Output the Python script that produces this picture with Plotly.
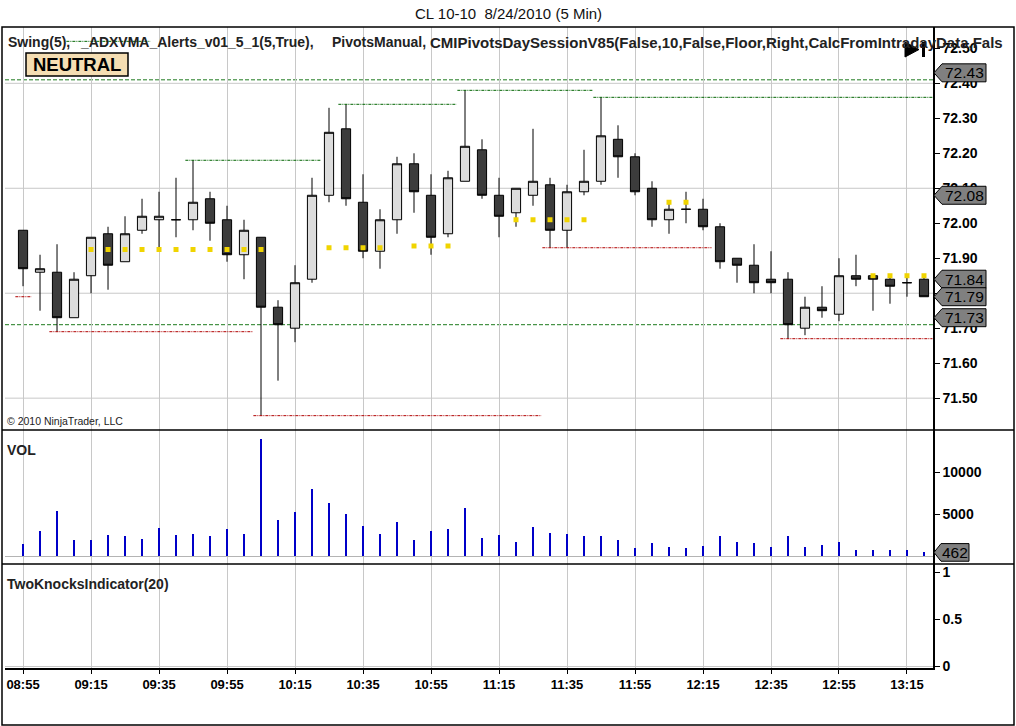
import plotly.graph_objects as go
from plotly.subplots import make_subplots

# --- bar data (5 min bars, CL 10-10, 8/24/2010) ---
times = ["08:55", "09:00", "09:05", "09:10", "09:15", "09:20", "09:25", "09:30", "09:35", "09:40",
         "09:45", "09:50", "09:55", "10:00", "10:05", "10:10", "10:15", "10:20", "10:25", "10:30",
         "10:35", "10:40", "10:45", "10:50", "10:55", "11:00", "11:05", "11:10", "11:15", "11:20",
         "11:25", "11:30", "11:35", "11:40", "11:45", "11:50", "11:55", "12:00", "12:05", "12:10",
         "12:15", "12:20", "12:25", "12:30", "12:35", "12:40", "12:45", "12:50", "12:55", "13:00",
         "13:05", "13:10", "13:15", "13:20"]

opens = [71.98, 71.86, 71.86, 71.73, 71.85, 71.97, 71.89, 71.98, 72.01, 72.01,
         72.01, 72.07, 72.01, 71.91, 71.96, 71.76, 71.70, 71.84, 72.08, 72.27,
         72.06, 71.92, 72.01, 72.17, 72.08, 71.97, 72.12, 72.21, 72.08, 72.03,
         72.08, 72.11, 71.98, 72.09, 72.12, 72.24, 72.19, 72.10, 72.01, 72.04,
         72.04, 71.99, 71.90, 71.88, 71.84, 71.84, 71.70, 71.76, 71.74, 71.85,
         71.85, 71.84, 71.83, 71.84]
highs = [71.98, 71.91, 71.94, 71.86, 71.96, 71.99, 72.02, 72.07, 72.09, 72.13,
         72.18, 72.09, 72.05, 72.01, 71.96, 71.78, 71.88, 72.13, 72.33, 72.34,
         72.14, 72.04, 72.19, 72.20, 72.14, 72.15, 72.38, 72.24, 72.13, 72.10,
         72.27, 72.13, 72.11, 72.21, 72.36, 72.28, 72.20, 72.12, 72.06, 72.09,
         72.07, 72.00, 71.90, 71.94, 71.92, 71.86, 71.79, 71.82, 71.90, 71.91,
         71.85, 71.85, 71.85, 71.85]
lows = [71.82, 71.75, 71.69, 71.73, 71.80, 71.81, 71.89, 71.97, 71.92, 71.96,
        71.98, 71.95, 71.89, 71.84, 71.45, 71.55, 71.66, 71.83, 72.06, 72.05,
        71.90, 71.87, 71.97, 72.03, 71.91, 71.96, 72.12, 72.07, 71.96, 71.99,
        72.05, 71.93, 71.93, 72.08, 72.11, 72.13, 72.08, 71.99, 71.97, 72.00,
        71.98, 71.87, 71.83, 71.80, 71.80, 71.67, 71.68, 71.73, 71.72, 71.82,
        71.75, 71.77, 71.79, 71.79]
closes = [71.87, 71.87, 71.73, 71.84, 71.96, 71.88, 71.97, 72.02, 72.02, 72.01,
          72.06, 72.00, 71.91, 71.98, 71.76, 71.71, 71.83, 72.08, 72.26, 72.07,
          71.92, 72.01, 72.17, 72.09, 71.96, 72.13, 72.22, 72.08, 72.02, 72.10,
          72.12, 71.98, 72.09, 72.12, 72.25, 72.19, 72.09, 72.01, 72.04, 72.04,
          71.99, 71.89, 71.88, 71.83, 71.83, 71.71, 71.76, 71.75, 71.85, 71.84,
          71.84, 71.82, 71.83, 71.79]
volumes = [1510, 3020, 5400, 1940, 1940, 2540, 2420, 2060, 3370, 2540,
           2660, 2420, 3250, 2660, 13970, 4330, 5280, 8020, 6350, 5040,
           3610, 2660, 4090, 1940, 3020, 3250, 5750, 2180, 2540, 1710,
           3490, 2780, 2660, 2420, 2420, 1940, 990, 1590, 1110, 990,
           1230, 2420, 1710, 1590, 1110, 2420, 1110, 1350, 1710, 750,
           750, 750, 750, 462]

# ADXVMA alert dots (None = no dot on that bar)
adxvma = [None, None, None, None, 71.925, 71.925, 71.925, 71.925, 71.925, 71.925,
          71.925, 71.925, 71.925, 71.925, 71.925, None, None, None, 71.93, 71.93,
          71.93, 71.93, None, 71.935, 71.935, 71.935, None, None, None, 72.01,
          72.01, 72.01, 72.01, 72.01, None, None, None, None, 72.06, 72.06,
          None, None, None, None, None, None, None, None, None, None,
          71.85, 71.85, 71.85, 71.85]

# Swing(5) levels: first bar, last bar, price
swing_high_start = [3, 10, 19, 26, 34]
swing_high_end = [7, 17, 25, 33, 53]
swing_high_price = [72.52, 72.18, 72.34, 72.38, 72.36]
swing_low_start = [0, 2, 14, 31, 45]
swing_low_end = [0, 13, 30, 40, 53]
swing_low_price = [71.79, 71.69, 71.45, 71.93, 71.67]

pivot_levels = [72.41, 71.71]
price_grid = [71.50, 71.80, 72.10, 72.40]
price_ticks = [71.50, 71.60, 71.70, 71.80, 71.90, 72.00, 72.10, 72.20, 72.30, 72.40, 72.50]
price_markers = [72.43, 72.08, 71.84, 71.79, 71.73]
vol_ticks = [5000, 10000]
vol_tick_text = ["5000", "10000"]
ind_ticks = [0, 0.5, 1]
ind_tick_text = ["0", "0.5", "1"]
time_ticks = ["08:55", "09:15", "09:35", "09:55", "10:15", "10:35", "10:55",
              "11:15", "11:35", "11:55", "12:15", "12:35", "12:55", "13:15"]

header_parts = ["Swing(5),", "_ADXVMA_Alerts_v01_5_1(5,True),", "PivotsManual,",
                "CMIPivotsDaySessionV85(False,10,False,Floor,Right,CalcFromIntradayData,Fals"]
header_x = [6, 78, 330, 428]
header_size = [14, 14, 14, 15]

bar_idx = list(range(len(times)))
tick_pos = [times.index(t) for t in time_ticks]

FONT = "Arial, Liberation Sans, sans-serif"

# pixel -> paper helpers for the decorations (plot area 5..933 x 27..668)
PL, PT, PW, PH = 5, 27, 928, 641


def px(x):
    return (x - PL) / PW


def py(y):
    return (PT + PH - y) / PH


fig = make_subplots(rows=3, cols=1, shared_xaxes=True, vertical_spacing=0)

fig.add_trace(go.Candlestick(
    x=bar_idx, open=opens, high=highs, low=lows, close=closes,
    increasing=dict(line=dict(color="black", width=1), fillcolor="#DCDCDC"),
    decreasing=dict(line=dict(color="black", width=1), fillcolor="#3C3C3C"),
    whiskerwidth=0, hoverinfo="skip"), row=1, col=1)

for s, e, p in zip(swing_high_start, swing_high_end, swing_high_price):
    fig.add_trace(go.Scatter(x=[s - 0.45, e + 0.5], y=[p, p], mode="lines",
                             line=dict(color="#006400", width=1, dash="3px,1px,1px,1px"),
                             hoverinfo="skip"), row=1, col=1)
for s, e, p in zip(swing_low_start, swing_low_end, swing_low_price):
    fig.add_trace(go.Scatter(x=[s - 0.45, e + 0.5], y=[p, p], mode="lines",
                             line=dict(color="#B00000", width=1, dash="3px,1px,1px,1px"),
                             hoverinfo="skip"), row=1, col=1)

fig.add_trace(go.Scatter(x=bar_idx, y=adxvma, mode="markers",
                         marker=dict(symbol="square", size=5, color="#F0D400"),
                         hoverinfo="skip"), row=1, col=1)

fig.add_trace(go.Bar(x=bar_idx, y=volumes, width=0.13,
                     marker=dict(color="#0000C8", line=dict(width=0)),
                     hoverinfo="skip"), row=2, col=1)

# empty indicator panel
fig.add_trace(go.Scatter(x=[], y=[], mode="lines", hoverinfo="skip"), row=3, col=1)

shapes = []
for g in price_grid:
    shapes.append(dict(type="line", xref="paper", yref="y", x0=0, x1=1, y0=g, y1=g,
                       line=dict(color="#C8C8C8", width=1), layer="below"))
for lv in pivot_levels:
    shapes.append(dict(type="line", xref="paper", yref="y", x0=0, x1=1, y0=lv, y1=lv,
                       line=dict(color="#1E7A1E", width=1, dash="4px,2px"), layer="below"))

# price markers on the right axis
half_p = 0.0257
for m in price_markers:
    shapes.append(dict(type="path", xref="paper", yref="y",
                       path=f"M {px(934)},{m} L {px(942)},{m + half_p} L {px(986)},{m + half_p} "
                            f"L {px(986)},{m - half_p} L {px(942)},{m - half_p} Z",
                       fillcolor="#808080", line=dict(color="black", width=1)))
half_v = 1050
vm = volumes[-1]
shapes.append(dict(type="path", xref="paper", yref="y2",
                   path=f"M {px(934)},{vm} L {px(941)},{vm + half_v} L {px(969)},{vm + half_v} "
                        f"L {px(969)},{vm - half_v} L {px(941)},{vm - half_v} Z",
                   fillcolor="#808080", line=dict(color="black", width=1)))

# frame and panel separators
shapes.append(dict(type="rect", xref="paper", yref="paper", x0=px(2), x1=px(1014),
                   y0=py(725), y1=py(27), line=dict(color="black", width=1.5)))
for sep in [430, 564]:
    shapes.append(dict(type="line", xref="paper", yref="paper", x0=px(2), x1=px(1014),
                       y0=py(sep), y1=py(sep), line=dict(color="black", width=1.5)))

# NEUTRAL box and end-of-chart glyph
shapes.append(dict(type="rect", xref="paper", yref="paper", x0=px(26), x1=px(128),
                   y0=py(76), y1=py(53), fillcolor="#F5DEB3", line=dict(color="black", width=1.5)))
shapes.append(dict(type="path", xref="paper", yref="paper",
                   path=f"M {px(905)},{py(42)} L {px(919)},{py(49.5)} L {px(905)},{py(57)} Z",
                   fillcolor="black", line=dict(color="black", width=1)))
shapes.append(dict(type="rect", xref="paper", yref="paper", x0=px(922), x1=px(925),
                   y0=py(57), y1=py(42), fillcolor="black", line=dict(color="black", width=0)))

annotations = [
    dict(text="CL 10-10\u00a0\u00a08/24/2010 (5 Min)", xref="paper", yref="paper",
         x=px(508), y=py(13), showarrow=False, xanchor="center", yanchor="middle",
         font=dict(family=FONT, size=15, color="#111111")),
    dict(text="NEUTRAL", xref="paper", yref="paper", x=px(77), y=py(64.5), showarrow=False,
         xanchor="center", yanchor="middle",
         font=dict(family=FONT, size=18.5, color="black", weight="bold")),
    dict(text="© 2010 NinjaTrader, LLC", xref="paper", yref="paper", x=px(5), y=py(421),
         showarrow=False, xanchor="left", yanchor="middle",
         font=dict(family=FONT, size=10.5, color="#222222")),
    dict(text="VOL", xref="paper", yref="paper", x=px(5), y=py(450), showarrow=False,
         xanchor="left", yanchor="middle",
         font=dict(family=FONT, size=14, color="#222222", weight="bold")),
    dict(text="TwoKnocksIndicator(20)", xref="paper", yref="paper", x=px(5), y=py(584),
         showarrow=False, xanchor="left", yanchor="middle",
         font=dict(family=FONT, size=14, color="#222222", weight="bold")),
]
for part, hx, hs in zip(header_parts, header_x, header_size):
    annotations.append(dict(text=part, xref="paper", yref="paper", x=px(hx), y=py(42),
                            showarrow=False, xanchor="left", yanchor="middle",
                            font=dict(family=FONT, size=hs, color="#222222", weight="bold")))
for m in price_markers:
    annotations.append(dict(text=f"{m:.2f}", xref="paper", yref="y", x=px(964), y=m,
                            showarrow=False, xanchor="center", yanchor="middle",
                            font=dict(family=FONT, size=15.5, color="black")))
annotations.append(dict(text=str(vm), xref="paper", yref="y2", x=px(955), y=vm,
                        showarrow=False, xanchor="center", yanchor="middle",
                        font=dict(family=FONT, size=15.5, color="black")))

fig.update_layout(
    width=1016, height=726,
    margin=dict(l=PL, r=1016 - PL - PW, t=PT, b=726 - PT - PH),
    paper_bgcolor="white", plot_bgcolor="white",
    showlegend=False, boxgap=0.46, boxgroupgap=0, bargap=0,
    shapes=shapes, annotations=annotations,
    font=dict(family=FONT, color="black"),
)

x_range = [-1.06, 53.53]
for i in (1, 2, 3):
    fig.update_xaxes(range=x_range, tickvals=tick_pos, ticktext=time_ticks,
                     showgrid=True, gridcolor="#C8C8C8", gridwidth=1, zeroline=False,
                     rangeslider=dict(visible=False), row=i, col=1)
fig.update_xaxes(ticks="outside", ticklen=4, tickcolor="black", showline=True,
                 linecolor="black", linewidth=1.5,
                 tickfont=dict(family=FONT, size=13, color="black", weight="bold"), row=3, col=1)

yfont = dict(family=FONT, size=14, color="black", weight="bold")
fig.update_yaxes(side="right", showline=True, linecolor="black", linewidth=1.5,
                 ticks="outside", ticklen=5, tickcolor="black", showgrid=False,
                 tickfont=yfont)
fig.update_yaxes(range=[71.409, 72.561], tickvals=price_ticks, tickformat=".2f",
                 zeroline=False, row=1, col=1)
fig.update_yaxes(range=[-917, 15036], tickvals=vol_ticks, ticktext=vol_tick_text,
                 zeroline=True, zerolinecolor="#B4B4B4", zerolinewidth=1, row=2, col=1)
fig.update_yaxes(range=[-0.017, 1.089], tickvals=ind_ticks, ticktext=ind_tick_text,
                 zeroline=True, zerolinecolor="#C8C8C8", zerolinewidth=1, row=3, col=1)

fig.layout.yaxis.domain = [py(430), 1.0]
fig.layout.yaxis2.domain = [py(564), py(430)]
fig.layout.yaxis3.domain = [0.0, py(564)]

# page body margin would shift the 1016x726 figure inside the window
fig.write_html("out.html", config={"displayModeBar": False},
               post_script="document.body.style.margin = '0px';")
